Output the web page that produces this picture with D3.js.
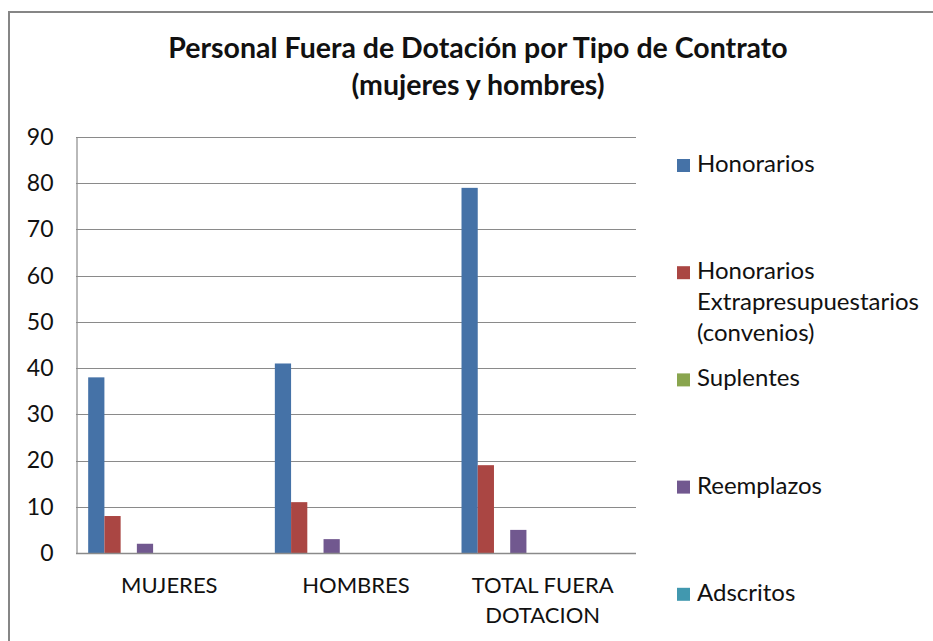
<!DOCTYPE html>
<html>
<head>
<meta charset="utf-8">
<script src="https://cdn.jsdelivr.net/npm/d3@7"></script>
<style>
  body { margin: 0; background: #fff; }
  text { font-family: Lato, "Liberation Sans", sans-serif; fill: #111; }
</style>
</head>
<body>
<script>
// chart values
var categories = ["MUJERES", "HOMBRES", "TOTAL FUERA DOTACION"];
var seriesNames = ["Honorarios", "Honorarios Extrapresupuestarios (convenios)", "Suplentes", "Reemplazos", "Adscritos"];
var seriesColors = ["#4572A7", "#AA4643", "#89A54E", "#71588F", "#4198AF"];
var honorarios = [38, 41, 79];
var extrapresupuestarios = [8, 11, 19];
var suplentes = [0, 0, 0];
var reemplazos = [2, 3, 5];
var adscritos = [0, 0, 0];
var yTicks = [0, 10, 20, 30, 40, 50, 60, 70, 80, 90];
var titleLines = ["Personal Fuera de Dotación por Tipo de Contrato", "(mujeres y hombres)"];

var seriesValues = [honorarios, extrapresupuestarios, suplentes, reemplazos, adscritos];

var width = 933, height = 641;
var plot = { left: 76, right: 636, top: 137, bottom: 553 };

var svg = d3.select("body").append("svg")
    .attr("width", width)
    .attr("height", height);

// chart frame (only top and left edges show in the crop)
svg.append("rect")
    .attr("x", 9).attr("y", 12)
    .attr("width", 940).attr("height", 660)
    .attr("fill", "none")
    .attr("stroke", "#868686")
    .attr("stroke-width", 2);

// title
svg.append("g").selectAll("text")
    .data(titleLines)
    .enter().append("text")
    .attr("x", 478)
    .attr("y", function(d, i) { return 58 + i * 37; })
    .attr("text-anchor", "middle")
    .attr("font-weight", "bold")
    .attr("font-size", 28.5)
    .text(function(d) { return d; });

var y = d3.scaleLinear().domain([0, 90]).range([plot.bottom, plot.top]);

var x0 = d3.scaleBand()
    .domain(categories)
    .range([plot.left, plot.right]);

// excel reserves ten slots per cluster (gap width 150%), only five series are shown
var x1 = d3.scaleBand()
    .domain(d3.range(10))
    .range([0, x0.bandwidth()])
    .paddingOuter(0.75);

// gridlines
svg.append("g").selectAll("line")
    .data(yTicks)
    .enter().append("line")
    .attr("x1", plot.left).attr("x2", plot.right)
    .attr("y1", function(d) { return Math.round(y(d)) + 0.5; })
    .attr("y2", function(d) { return Math.round(y(d)) + 0.5; })
    .attr("stroke", "#8a8a8a")
    .attr("stroke-width", 1.2);

// y axis
var yAxis = svg.append("g")
    .attr("transform", "translate(" + (plot.left + 0.5) + ",0)")
    .call(d3.axisLeft(y).tickValues(yTicks).tickSize(0).tickPadding(23));
yAxis.select(".domain").attr("stroke", "#8a8a8a").attr("stroke-width", 1.2);
yAxis.selectAll("text")
    .attr("font-size", 23)
    .attr("font-family", null)
    .attr("fill", "#111");

// bars
var groups = svg.append("g").selectAll("g")
    .data(seriesValues)
    .enter().append("g")
    .attr("fill", function(d, i) { return seriesColors[i]; });

groups.each(function(vals, si) {
    d3.select(this).selectAll("rect")
        .data(vals)
        .enter().append("rect")
        .attr("x", function(d, ci) { return x0(categories[ci]) + x1(si); })
        .attr("width", x1.bandwidth())
        .attr("y", function(d) { return y(d); })
        .attr("height", function(d) { return y(0) - y(d); });
});

// redraw zero line on top
svg.append("line")
    .attr("x1", plot.left).attr("x2", plot.right)
    .attr("y1", Math.round(y(0)) + 0.5).attr("y2", Math.round(y(0)) + 0.5)
    .attr("stroke", "#8a8a8a")
    .attr("stroke-width", 1.5);

function wrap(sel, maxWidth, lineHeight) {
    sel.each(function() {
        var t = d3.select(this);
        var words = t.text().split(" ");
        var x = t.attr("x");
        t.text(null);
        var line = [];
        var tspan = t.append("tspan").attr("x", x).attr("dy", 0);
        words.forEach(function(w) {
            line.push(w);
            tspan.text(line.join(" "));
            if (tspan.node().getComputedTextLength() > maxWidth && line.length > 1) {
                line.pop();
                tspan.text(line.join(" "));
                line = [w];
                tspan = t.append("tspan").attr("x", x).attr("dy", lineHeight).text(w);
            }
        });
    });
}

// category labels
svg.append("g").selectAll("text")
    .data(categories)
    .enter().append("text")
    .attr("x", function(d) { return x0(d) + x0.bandwidth() / 2; })
    .attr("y", 593)
    .attr("text-anchor", "middle")
    .attr("font-size", 22)
    .text(function(d) { return d; })
    .call(wrap, 170, 30);

// legend
var legend = svg.append("g").selectAll("g")
    .data(seriesNames)
    .enter().append("g")
    .attr("transform", function(d, i) { return "translate(677," + (172 + i * 107.2) + ")"; });

legend.append("rect")
    .attr("x", 0).attr("y", -13)
    .attr("width", 13).attr("height", 13)
    .attr("fill", function(d, i) { return seriesColors[i]; });

legend.append("text")
    .attr("x", 20)
    .attr("y", 0)
    .attr("font-size", 24)
    .text(function(d) { return d; })
    .call(wrap, 236, 31);
</script>
</body>
</html>
